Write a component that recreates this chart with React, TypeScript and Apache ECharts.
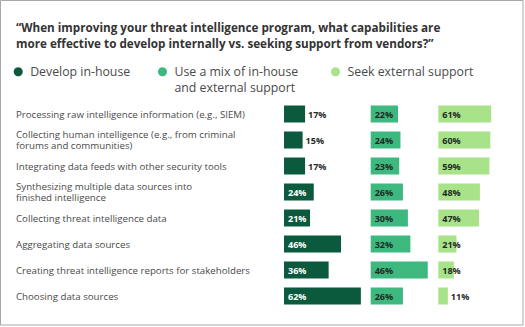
import React, { useEffect, useRef } from "react";
import * as echarts from "echarts";

const titleLines = [
  "\u201cWhen improving your threat intelligence program, what capabilities are",
  "more effective to develop internally vs. seeking support from vendors?\u201d",
];

const seriesNames = [
  "Develop in-house",
  "Use a mix of in-house\nand external support",
  "Seek external support",
];

const categories = [
  "Processing raw intelligence information (e.g., SIEM)",
  "Collecting human intelligence (e.g., from criminal\nforums and communities)",
  "Integrating data feeds with other security tools",
  "Synthesizing multiple data sources into\nfinished intelligence",
  "Collecting threat intelligence data",
  "Aggregating data sources",
  "Creating threat intelligence reports for stakeholders",
  "Choosing data sources",
];

const inHouse = [17, 15, 17, 24, 21, 46, 36, 62];
const mixed = [22, 24, 23, 26, 30, 32, 46, 26];
const external = [61, 60, 59, 48, 47, 21, 18, 11];

const colors = ["#0b5a3d", "#3db87f", "#a8e389"];
const insideLabelColors = ["#ffffff", "#1f2a24", "#1f2a24"];

const FONT = "'Open Sans', 'Liberation Sans', sans-serif";

export default function App() {
  const ref = useRef<HTMLDivElement>(null);

  useEffect(() => {
    if (!ref.current) return;
    const chart = echarts.init(ref.current, undefined, { renderer: "svg" });

    const gridLefts = [284, 370.7, 438.3];
    const allData = [inHouse, mixed, external];

    const grids = gridLefts.map((l) => ({
      left: l,
      top: 101,
      width: 124,
      height: 208,
      containLabel: false,
    }));

    const xAxes = gridLefts.map((_, i) => ({
      type: "value" as const,
      gridIndex: i,
      min: 0,
      max: 100,
      show: false,
    }));

    const yAxes = gridLefts.map((_, i) => ({
      type: "category" as const,
      gridIndex: i,
      data: categories,
      inverse: true,
      axisLine: { show: false },
      axisTick: { show: false },
      splitLine: { show: false },
      axisLabel: {
        show: i === 0,
        align: "left" as const,
        margin: 268,
        fontSize: 9.7,
        lineHeight: 11.5,
        color: "#4a4a4a",
        fontFamily: FONT,
      },
    }));

    const series = allData.map((arr, i) => ({
      type: "bar" as const,
      name: seriesNames[i],
      xAxisIndex: i,
      yAxisIndex: i,
      barWidth: 17,
      itemStyle: { color: colors[i] },
      data: arr.map((v) => {
        const outside = v < 18;
        return {
          value: v,
          label: {
            show: true,
            position: outside ? "right" : "insideLeft",
            distance: outside ? 3 : 4,
            formatter: "{c}%",
            fontSize: 9,
            fontWeight: "bold",
            fontFamily: FONT,
            color: outside ? "#2a2a2a" : insideLabelColors[i],
          },
        };
      }),
    }));

    const legendLefts = [13.7, 158, 331];
    const legends = seriesNames.map((name, i) => ({
      data: [name],
      left: legendLefts[i],
      top: i === 1 ? 48.5 : 64,
      padding: 0,
      icon: "circle",
      itemWidth: 14,
      itemHeight: 9,
      selectedMode: false,
      formatter: (n: string) => (n.indexOf("\n") >= 0 ? "\n" + n : n),
      textStyle: {
        fontSize: 12.3,
        color: "#4a4a4a",
        fontFamily: FONT,
        lineHeight: 15.5,
      },
    }));

    chart.setOption({
      animation: false,
      backgroundColor: "#ffffff",
      title: {
        text: titleLines.join("\n"),
        left: 16,
        top: 19,
        padding: 0,
        textStyle: {
          fontSize: 11.7,
          fontWeight: "bold",
          color: "#333333",
          lineHeight: 16,
          fontFamily: FONT,
        },
      },
      legend: legends,
      grid: grids,
      xAxis: xAxes,
      yAxis: yAxes,
      series,
      graphic: [
        {
          type: "rect",
          shape: { x: 0.5, y: 0.5, width: 522.5, height: 324.5 },
          style: { fill: "none", stroke: "#a8a8a8", lineWidth: 1 },
          silent: true,
        },
      ],
    });

    return () => chart.dispose();
  }, []);

  return (
    <div
      ref={ref}
      style={{ position: "fixed", left: 0, top: 0, width: 525, height: 327 }}
    />
  );
}
